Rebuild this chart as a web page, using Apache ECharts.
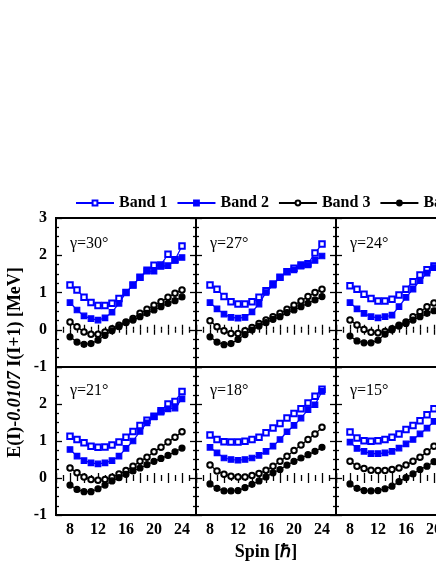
<!DOCTYPE html>
<html><head><meta charset="utf-8">
<script src="https://cdn.jsdelivr.net/npm/echarts@6/dist/echarts.min.js"></script>
<style>html,body{margin:0;padding:0;background:#fff;}#c{width:436px;height:564px;}</style>
</head><body><div id="c"></div>
<script>
// ---- data ----
const spins = [8,9,10,11,12,13,14,15,16,17,18,19,20,21,22,23,24];
const bandNames = ['Band 1','Band 2','Band 3','Band 4'];
const gammaLabels = ['γ=30°','γ=27°','γ=24°','γ=21°','γ=18°','γ=15°'];
const xTickLabels = [8,12,16,20,24];
const yTickLabels = [-1,0,1,2,3];

const g30_band1 = [1.20,1.07,0.87,0.73,0.65,0.65,0.71,0.84,1.00,1.20,1.41,1.60,1.73,1.74,2.03,1.88,2.25];
const g30_band2 = [0.73,0.53,0.37,0.30,0.26,0.32,0.47,0.71,1.00,1.20,1.41,1.57,1.57,1.70,1.72,1.86,1.94];
const g30_band3 = [0.21,0.08,-0.06,-0.12,-0.12,-0.06,0.03,0.12,0.21,0.30,0.44,0.55,0.66,0.75,0.87,0.98,1.07];
const g30_band4 = [-0.19,-0.33,-0.39,-0.37,-0.28,-0.15,-0.03,0.08,0.19,0.26,0.35,0.44,0.53,0.62,0.71,0.78,0.88];

const g27_band1 = [1.20,1.09,0.89,0.75,0.69,0.69,0.75,0.87,1.05,1.23,1.41,1.56,1.65,1.74,1.77,2.06,2.30];
const g27_band2 = [0.73,0.56,0.42,0.33,0.31,0.33,0.48,0.69,1.00,1.20,1.41,1.56,1.61,1.71,1.74,1.86,1.98];
const g27_band3 = [0.24,0.08,-0.03,-0.10,-0.10,-0.03,0.06,0.17,0.26,0.35,0.44,0.55,0.66,0.77,0.89,1.00,1.09];
const g27_band4 = [-0.19,-0.33,-0.40,-0.37,-0.26,-0.13,-0.01,0.10,0.19,0.28,0.35,0.46,0.53,0.62,0.71,0.80,0.89];

const g24_band1 = [1.18,1.09,0.95,0.84,0.77,0.77,0.82,0.93,1.09,1.29,1.47,1.61,1.71,1.80];
const g24_band2 = [0.73,0.56,0.44,0.35,0.32,0.35,0.39,0.62,0.87,1.09,1.32,1.52,1.67,1.78];
const g24_band3 = [0.26,0.13,0.01,-0.07,-0.08,-0.05,0.03,0.12,0.21,0.35,0.48,0.62,0.72,0.82];
const g24_band4 = [-0.17,-0.30,-0.35,-0.35,-0.28,-0.12,-0.01,0.10,0.17,0.26,0.35,0.44,0.51,0.60];

const g21_band1 = [1.13,1.04,0.95,0.86,0.83,0.84,0.89,0.97,1.10,1.26,1.42,1.56,1.67,1.82,2.00,2.07,2.34];
const g21_band2 = [0.77,0.59,0.47,0.41,0.38,0.41,0.47,0.59,0.80,1.00,1.26,1.49,1.65,1.78,1.87,1.89,2.14];
const g21_band3 = [0.27,0.14,0.03,-0.04,-0.06,-0.04,0.02,0.11,0.20,0.32,0.45,0.56,0.71,0.83,0.97,1.10,1.25];
const g21_band4 = [-0.19,-0.31,-0.37,-0.37,-0.29,-0.19,-0.08,0.01,0.10,0.19,0.27,0.36,0.45,0.53,0.61,0.71,0.81];

const g18_band1 = [1.16,1.04,0.98,0.97,0.97,0.99,1.04,1.10,1.22,1.35,1.47,1.62,1.74,1.87,2.03,2.21,2.40];
const g18_band2 = [0.83,0.68,0.54,0.50,0.48,0.50,0.54,0.61,0.72,0.86,1.04,1.25,1.42,1.62,1.85,1.98,2.34];
const g18_band3 = [0.35,0.19,0.10,0.05,0.03,0.03,0.07,0.12,0.21,0.32,0.45,0.59,0.74,0.89,1.04,1.19,1.37];
const g18_band4 = [-0.16,-0.28,-0.35,-0.35,-0.34,-0.26,-0.17,-0.08,0.03,0.14,0.23,0.35,0.45,0.54,0.63,0.72,0.83];

const g15_band1 = [1.24,1.08,1.01,0.99,1.01,1.04,1.10,1.19,1.31,1.42,1.55,1.71,1.87,2.02];
const g15_band2 = [0.97,0.80,0.72,0.66,0.66,0.68,0.72,0.81,0.92,1.04,1.19,1.35,1.53,1.70];
const g15_band3 = [0.45,0.32,0.26,0.21,0.20,0.20,0.23,0.27,0.35,0.45,0.56,0.71,0.86,1.01];
const g15_band4 = [-0.16,-0.28,-0.34,-0.35,-0.34,-0.29,-0.22,-0.10,0.01,0.11,0.23,0.32,0.44,0.55];

const panels = [
  [g30_band1,g30_band2,g30_band3,g30_band4],
  [g27_band1,g27_band2,g27_band3,g27_band4],
  [g24_band1,g24_band2,g24_band3,g24_band4],
  [g21_band1,g21_band2,g21_band3,g21_band4],
  [g18_band1,g18_band2,g18_band3,g18_band4],
  [g15_band1,g15_band2,g15_band3,g15_band4]
];

// ---- layout / style ----
const FONT = '"Liberation Serif","Times New Roman",serif';
const colLeft = [56,196,336];
const colWidth = 140;
const rowTop = [218,367];
const rowHeight = [149,148];
const BLUE = '#0000ff';
const bandStyle = [
  {symbol:'emptyRect', color:BLUE, size:5.5},
  {symbol:'rect', color:BLUE, size:5.5},
  {symbol:'emptyCircle', color:'#000', size:5.5},
  {symbol:'circle', color:'#000', size:6}
];

const grids=[], xAxes=[], yAxes=[], series=[], graphics=[];
const tickStyle = {color:'#000', width:1.3};
for (let p=0;p<6;p++){
  const r=Math.floor(p/3), c=p%3;
  grids.push({left:colLeft[c], top:rowTop[r], width:colWidth, height:rowHeight[r],
    outerBoundsMode:'none', containLabel:false,
    show:true, borderColor:'#000', borderWidth:2, backgroundColor:'transparent'});
}
function xAx(p,pos,labels){
  return {gridIndex:p, type:'value', position:pos, min:6, max:26, interval:2,
    axisLine:{show:false}, splitLine:{show:false},
    axisTick:{show:true, inside:true, length:5, lineStyle:tickStyle},
    minorTick:{show:true, splitNumber:2, length:3, lineStyle:tickStyle},
    axisLabel:{show:labels, margin:7, color:'#000', fontFamily:FONT, fontWeight:'bold', fontSize:16,
      formatter:v=> xTickLabels.indexOf(v)>=0 ? String(v) : ''}};
}
function yAx(p,pos,labels,showMax){
  return {gridIndex:p, type:'value', position:pos, min:-1, max:3, interval:1,
    axisLine:{show:false}, splitLine:{show:false},
    axisTick:{show:true, inside:true, length:6, lineStyle:tickStyle},
    minorTick:{show:true, splitNumber:4, length:3, lineStyle:tickStyle},
    axisLabel:{show:labels, margin:9, color:'#000', fontFamily:FONT, fontWeight:'bold', fontSize:16,
      showMaxLabel:showMax, showMinLabel:true,
      formatter:v=> yTickLabels.indexOf(v)>=0 ? String(v) : ''}};
}
for (let p=0;p<6;p++){
  const r=Math.floor(p/3), c=p%3;
  xAxes[p]=xAx(p,'bottom',r===1);
  xAxes[6+p]=xAx(p,'top',false);
  yAxes[p]=yAx(p,'left',c===0,r===0);
  yAxes[6+p]=yAx(p,'right',false,false);
  for (let b=0;b<4;b++){
    const arr=panels[p][b];
    const st=bandStyle[b];
    series.push({type:'line', name:bandNames[b], xAxisIndex:p, yAxisIndex:p,
      data:arr.map((v,i)=>[spins[i],v]),
      symbol:st.symbol, symbolSize:st.size, showAllSymbol:true,
      lineStyle:{color:st.color, width:1.2},
      itemStyle:{color:st.color, borderColor:st.color, borderWidth:1.2},
      emphasis:{disabled:true}, animation:false, z:2+b});
  }
  graphics.push({type:'text', x:colLeft[c]+14, y:(r===0?244:391),
    style:{text:gammaLabels[p], font:'16px '+FONT, fill:'#000', verticalAlign:'middle', align:'left'}});
}
graphics.push({type:'text', x:15.5, y:362.5, rotation:Math.PI/2,
  style:{text:'{b|E(I)-}{i|0.0107}{b| I(I+1) [MeV]}', align:'center', verticalAlign:'middle',
    rich:{b:{fontFamily:FONT, fontWeight:'bold', fontSize:18, fill:'#000', color:'#000'},
          i:{fontFamily:FONT, fontWeight:'bold', fontStyle:'italic', fontSize:18, fill:'#000', color:'#000'}}}});
graphics.push({type:'text', x:266, y:552,
  style:{text:'Spin [ℏ]', font:'bold 18px '+FONT, fill:'#000', align:'center', verticalAlign:'middle'}});

const chart=echarts.init(document.getElementById('c'),null,{renderer:'canvas'});
chart.setOption({
  animation:false, backgroundColor:'#fff',
  legend:{data:bandNames, left:70, top:190, width:700, itemWidth:38, itemHeight:6, itemGap:9,
    selectedMode:false, textStyle:{fontFamily:FONT, fontWeight:'bold', fontSize:16, color:'#000'}},
  grid:grids, xAxis:xAxes, yAxis:yAxes, series:series, graphic:graphics
});
</script></body></html>
